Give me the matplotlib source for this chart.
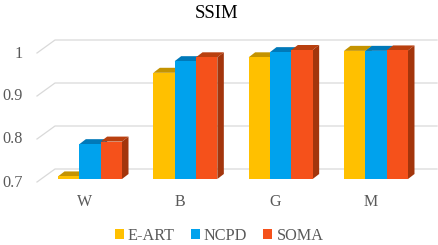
import numpy as np
import matplotlib
matplotlib.use("Agg")
import matplotlib.pyplot as plt
from matplotlib.patches import Polygon, Patch

plt.rcParams['font.family'] = ['Liberation Serif', 'DejaVu Serif']

# data
categories = ['W', 'B', 'G', 'M']
series = ['E-ART', 'NCPD', 'SOMA']
e_art = [0.706, 0.947, 0.983, 0.998]
ncpd = [0.781, 0.974, 0.995, 0.998]
soma = [0.787, 0.983, 1.000, 0.999]
yticks = [0.7, 0.8, 0.9, 1.0]
ytick_labels = ['0.7', '0.8', '0.9', '1']

front_cols = ['#FFC000', '#00A2ED', '#F5511B']
top_cols = ['#C49300', '#0079B9', '#B9400F']
side_cols = ['#C49300', '#0079B9', '#A3350C']

W, H = 438, 245
fig = plt.figure(figsize=(W / 100, H / 100), dpi=100)

# axes placed so that category spacing ~95 px and 0.1 ~ 43 px
px_x = 95.33          # px per category unit
px_y = 430.0          # px per value unit
x0_px = 90 - 0.5 * px_x
ax = fig.add_axes([x0_px / W, (H - 179) / H, 4 * px_x / W, 0.3 * px_y / H])
ax.set_xlim(-0.5, 3.5)
ax.set_ylim(0.7, 1.0)
ax.axis('off')

def dx(p):
    return p / px_x

def dy(p):
    return p / px_y

base = 0.7
# gridlines: back wall + left side wall
for v in yticks:
    xb = dx(55 - 90)
    xr = dx(437 - 90)
    xf = dx(37 - 90)
    ax.plot([xf, xb, xr], [v - dy(3), v + dy(10), v + dy(10)],
            color='#D9D9D9', lw=0.9, clip_on=False, zorder=1)

for v, lab in zip(yticks, ytick_labels):
    ax.text(dx(23 - 90), v - dy(3.5), lab, ha='right', va='center',
            fontsize=11.7, color='#595959', clip_on=False)

bw = 64 / 3 / px_x
ddx, ddy = dx(6.5), dy(5)
vals = [e_art, ncpd, soma]
z = 2
for i, cat in enumerate(categories):
    left = i - 1.5 * bw
    for s in range(3):
        x1 = left + s * bw
        x2 = x1 + bw
        h = vals[s][i]
        top = Polygon([(x1, h), (x2, h), (x2 + ddx, h + ddy), (x1 + ddx, h + ddy)],
                      closed=True, fc=top_cols[s], ec='none', zorder=z, clip_on=False)
        side = Polygon([(x2, base), (x2, h), (x2 + ddx, h + ddy), (x2 + ddx, base + ddy)],
                       closed=True, fc=side_cols[s], ec='none', zorder=z, clip_on=False)
        ax.add_patch(top)
        ax.add_patch(side)
        ax.bar(x1, h - base, width=bw, bottom=base, align='edge', color=front_cols[s],
               zorder=z + 1, clip_on=False)
        z += 2
    ax.text(i - dx(5.5), base - dy(23), cat, ha='center', va='center',
            fontsize=11.5, color='#595959', clip_on=False)

fig.text(217 / W, 1 - 13 / H, 'SSIM', ha='center', va='center', fontsize=13.5, color='#000000')

handles = [Patch(facecolor=c, edgecolor='none') for c in front_cols]
fig.legend(handles, series, loc='center', bbox_to_anchor=(219 / W, 1 - 236 / H), ncol=3,
           frameon=False, fontsize=11.7, handlelength=0.55, handleheight=0.55,
           handletextpad=0.25, columnspacing=1.0, labelcolor='#595959')

fig.savefig('out.png', dpi=100)
